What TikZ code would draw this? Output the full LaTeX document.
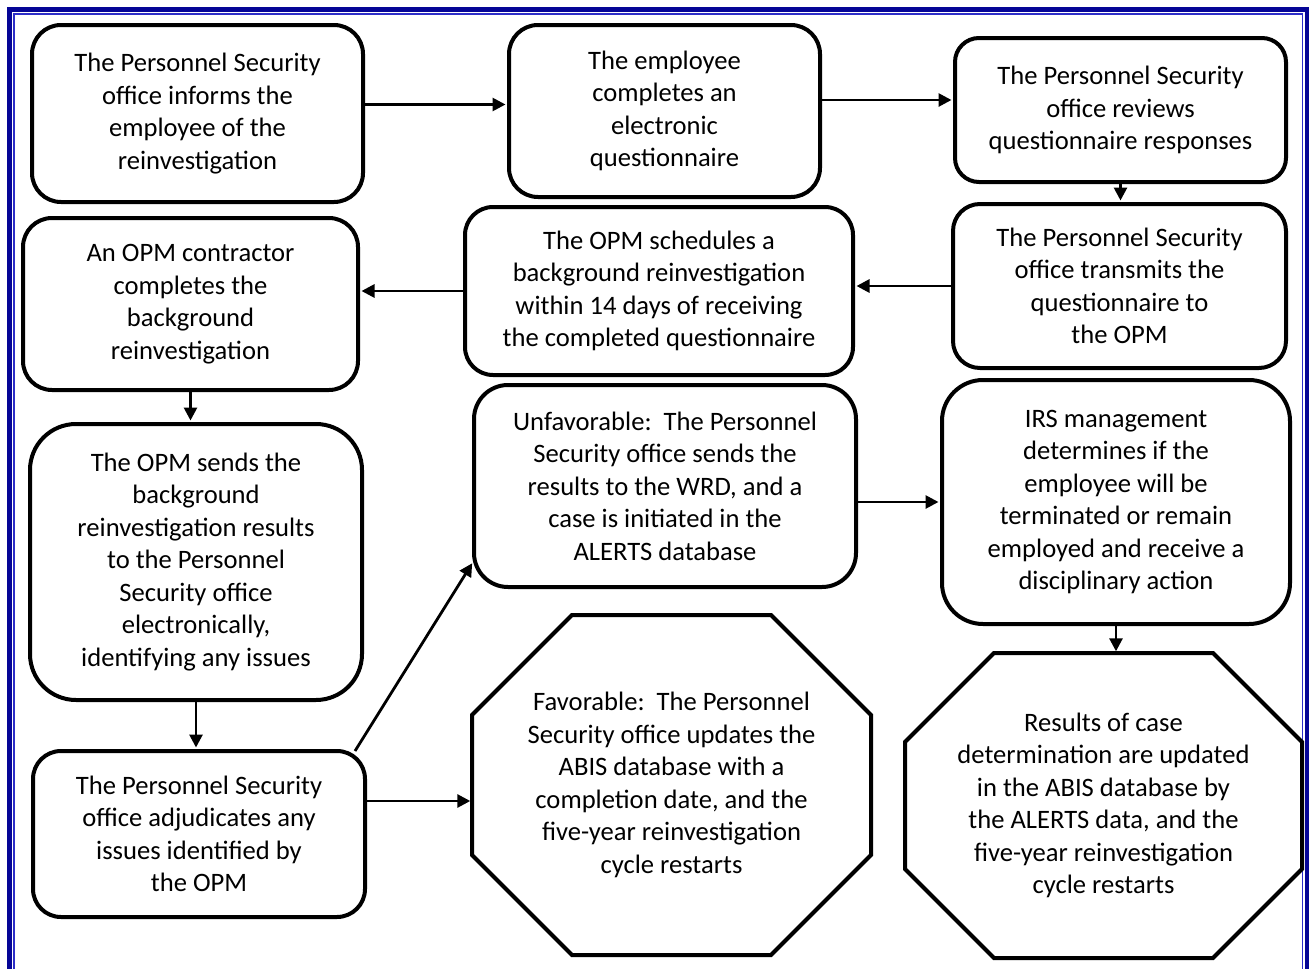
\documentclass[tikz,border=0pt]{standalone}
\usepackage{fontspec}
\setmainfont{Carlito}
\usetikzlibrary{arrows.meta,calc}
\definecolor{frameouter}{RGB}{5,5,150}
\definecolor{frameinner}{RGB}{45,45,200}
\begin{document}
\begin{tikzpicture}[x=1pt,y=-1pt,
  txt/.style={align=center,inner sep=0pt,font=\fontsize{26.6}{32.5}\selectfont},
  box/.style={txt,draw=black,line width=4pt,fill=white},
  octline/.style={draw=black,line width=4pt,line join=miter},
  arr/.style={line width=2.8pt,shorten >=1.5pt,-{Triangle[length=13pt,width=13pt]}}]
\useasboundingbox (0,0) rectangle (1310,969);
\draw[frameouter,line width=4.5pt] (9.3,969) -- (9.3,9.3) -- (1307,9.3) -- (1307,969);
\draw[frameinner,line width=1.3pt] (13.9,969) -- (13.9,13.9) -- (1302.5,13.9) -- (1302.5,969);

\node[box,minimum width=331pt,minimum height=177pt,rounded corners=29pt] (b1) at (197.5,113.5)
  {The Personnel Security\\office informs the\\employee of the\\reinvestigation};
\node[box,minimum width=311pt,minimum height=172pt,rounded corners=29pt] (b2) at (664.5,111)
  {The employee\\completes an\\electronic\\questionnaire};
\node[box,minimum width=331pt,minimum height=144pt,rounded corners=24pt] (b3) at (1120.5,110)
  {The Personnel Security\\office reviews\\questionnaire responses};
\node[box,minimum width=333pt,minimum height=164pt,rounded corners=27pt] (b4) at (1119.5,286)
  {The Personnel Security\\office transmits the\\questionnaire to\\the OPM};
\node[box,minimum width=388pt,minimum height=168pt,rounded corners=28pt] (b5) at (659,291)
  {The OPM schedules a\\background reinvestigation\\within 14 days of receiving\\the completed questionnaire};
\node[box,minimum width=335pt,minimum height=172pt,rounded corners=29pt] (b6) at (190.5,304)
  {An OPM contractor\\completes the\\background\\reinvestigation};
\node[box,minimum width=332pt,minimum height=276pt,rounded corners=46pt] (b7) at (196,562)
  {The OPM sends the\\background\\reinvestigation results\\to the Personnel\\Security office\\electronically,\\identifying any issues};
\node[box,minimum width=332pt,minimum height=166pt,rounded corners=28pt] (b8) at (199,834)
  {The Personnel Security\\office adjudicates any\\issues identified by\\the OPM};
\node[box,minimum width=382pt,minimum height=202pt,rounded corners=34pt] (b9) at (665,486)
  {Unfavorable:\ \ The Personnel\\Security office sends the\\results to the WRD, and a\\case is initiated in the\\ALERTS database};
\node[box,minimum width=348pt,minimum height=244pt,rounded corners=41pt] (b10) at (1116,502)
  {IRS management\\determines if the\\employee will be\\terminated or remain\\employed and receive a\\disciplinary action};

\draw[octline] (572,615) -- (771,615) -- (871,715) -- (871,855) -- (771,955) -- (572,955) -- (472,855) -- (472,715) -- cycle;
\node[txt,minimum width=399pt,minimum height=340pt] (o1) at (671.5,785)
  {Favorable:\ \ The Personnel\\Security office updates the\\ABIS database with a\\completion date, and the\\five-year reinvestigation\\cycle restarts};
\draw[octline] (994,653) -- (1213,653) -- (1302,742) -- (1302,869) -- (1213,958) -- (994,958) -- (905,869) -- (905,742) -- cycle;
\node[txt,minimum width=397pt,minimum height=305pt] (o2) at (1103.5,805.5)
  {\raisebox{-5pt}{\parbox{397pt}{\centering Results of case\\determination are updated\\in the ABIS database by\\the ALERTS data, and the\\five-year reinvestigation\\cycle restarts}}};

\coordinate (c12) at ([yshift=9pt]b1.east);
\coordinate (c23) at ([yshift=11pt]b2.east);
\coordinate (c8) at ([yshift=33pt]b8.east);
\draw[arr] (c12) -- (c12 -| b2.west);
\draw[arr] (c23) -- (c23 -| b3.west);
\draw[arr] (b3.south) -- (b3.south |- b4.north);
\draw[arr] (b4.west) -- (b4.west -| b5.east);
\draw[arr] (b5.west) -- (b5.west -| b6.east);
\draw[arr] (b6.south) -- (b6.south |- b7.north);
\draw[arr] (b7.south) -- (b7.south |- b8.north);
\draw[arr] ($(b8.north east)+(-12,2)$) -- ($(b9.south west)+(1,-27)$);
\draw[arr] (c8) -- (c8 -| o1.west);
\draw[arr] (b9.east |- b10.west) -- (b10.west);
\draw[arr] (b10.south) -- (b10.south |- o2.north);
\end{tikzpicture}
\end{document}
